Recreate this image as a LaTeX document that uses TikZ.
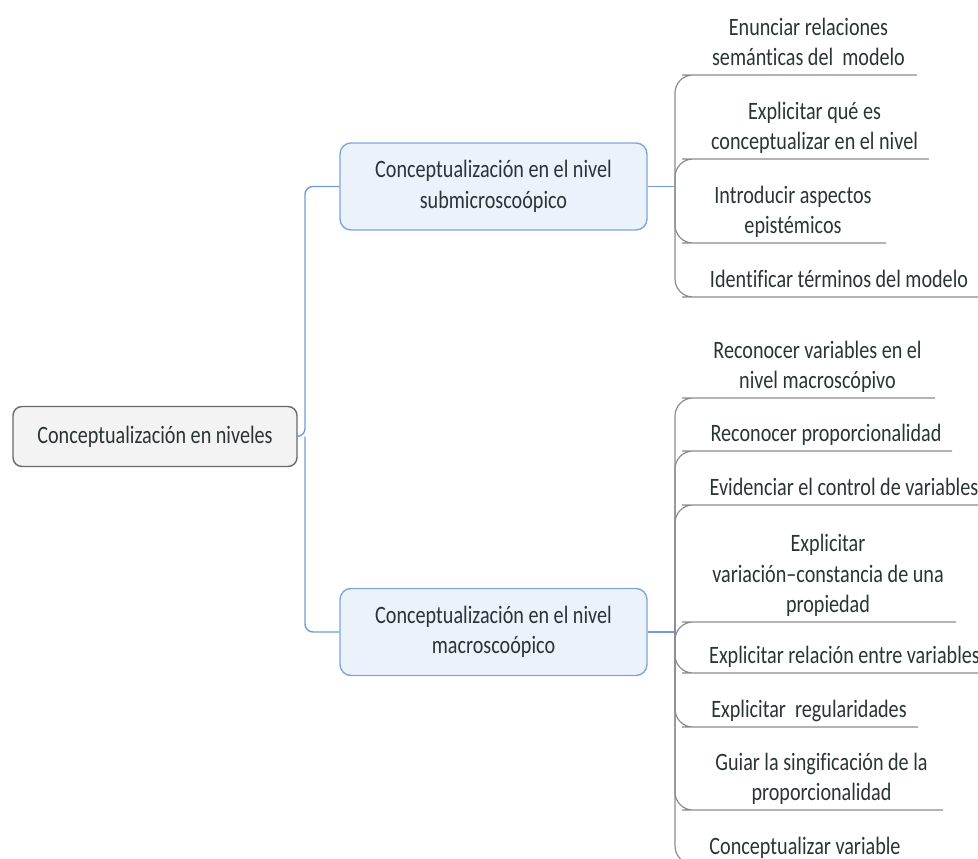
\documentclass[tikz,border=0pt]{standalone}
\usepackage{fontspec}
\setmainfont[FakeStretch=0.806, Ligatures=NoCommon]{Carlito}
\definecolor{inkgray}{HTML}{2B3434}
\definecolor{twiggray}{HTML}{8C8C8C}
\definecolor{limbblue}{HTML}{6E9DD6}
\definecolor{rootfill}{HTML}{F3F3F3}
\definecolor{rootline}{HTML}{6A6A6A}
\definecolor{subfill}{HTML}{EBF2FC}
\definecolor{subline}{HTML}{7EA6D8}
\begin{document}
\begin{tikzpicture}[x=1pt,y=-1pt,
  every node/.style={font=\fontsize{25}{30.5}\selectfont, text=inkgray},
  rootbox/.style={draw=rootline, fill=rootfill, line width=1.4pt, rounded corners=9pt,
    minimum width=284pt, minimum height=60pt, align=center, inner sep=0pt},
  subbox/.style={draw=subline, fill=subfill, line width=1.4pt, rounded corners=11pt,
    minimum width=307pt, minimum height=87pt, align=center, inner sep=0pt},
  leaf/.style={anchor=south west, align=center, inner sep=0pt, outer sep=0pt},
  limb/.style={draw=limbblue, line width=1.4pt, rounded corners=8pt},
  twig/.style={draw=twiggray, line width=1.2pt, rounded corners=18pt},
]
\useasboundingbox (0,0) rectangle (978,859);
\clip (0,0) rectangle (978,859);

% main topics
\node[rootbox] (root) at (155,436.5) {Conceptualización en niveles};
\node[subbox] (sub) at (493.5,186.5) {Conceptualización en el nivel\\submicroscoópico};
\node[subbox] (mac) at (493.5,632) {Conceptualización en el nivel\\macroscoópico};

\coordinate (split) at (305,436.5);
\coordinate (hubA) at (675,186.5);
\coordinate (hubB) at (675,632);

\draw[limb] (root.east) -- (split) |- (sub.west);
\draw[limb] (split) |- (mac.west);
\draw[limb] (sub.east) -- (hubA);
\draw[limb] (mac.east) -- (hubB);

% subtopics of the submicroscopic level
\node[leaf, minimum width=217pt] (a1) at (700,75) {Enunciar relaciones\\semánticas del\ \ modelo\strut};
\node[leaf, minimum width=229pt] (a2) at (700,159) {Explicitar qué es\\conceptualizar en el nivel\strut};
\node[leaf, minimum width=186pt] (a3) at (700,243) {Introducir aspectos\\epistémicos\strut};
\node[leaf, minimum width=278pt] (a4) at (700,297) {Identificar términos del modelo\strut};

\foreach \n in {a1,a2,a3,a4}
  \draw[twig] (hubA) |- (\n.south west) -- (\n.south east);

% subtopics of the macroscopic level
\node[leaf, minimum width=235pt] (b1) at (700,398) {Reconocer variables en el\\nivel macroscópivo\strut};
\node[leaf, minimum width=252pt] (b2) at (700,451) {Reconocer proporcionalidad\strut};
\node[leaf, minimum width=288pt] (b3) at (700,505) {Evidenciar el control de variables\strut};
\node[leaf, minimum width=256pt] (b4) at (700,622) {Explicitar\\variación–constancia de una\\propiedad\strut};
\node[leaf, minimum width=289pt] (b5) at (700,673) {Explicitar relación entre variables\strut};
\node[leaf, minimum width=218pt] (b6) at (700,727) {Explicitar\ \ regularidades\strut};
\node[leaf, minimum width=243pt] (b7) at (700,810) {Guiar la singificación de la\\proporcionalidad\strut};
\node[leaf, minimum width=210pt] (b8) at (700,864) {Conceptualizar variable\strut};

\foreach \n in {b1,b2,b3,b5,b6,b7,b8}
  \draw[twig] (hubB) |- (\n.south west) -- (\n.south east);
\draw[twig] (hubB) -- ++(0,10) |- (b4.south west) -- (b4.south east);
\end{tikzpicture}
\end{document}
